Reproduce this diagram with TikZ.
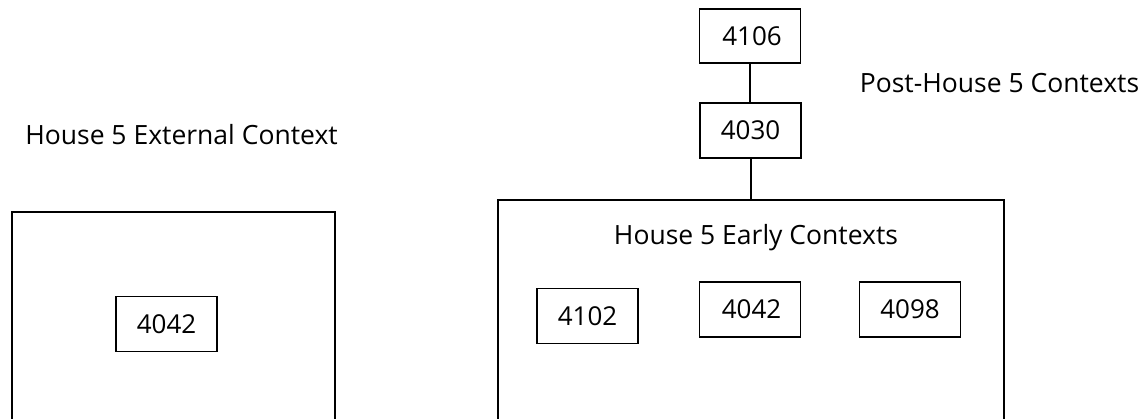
\documentclass[tikz,border=0pt]{standalone}
\usepackage{fontspec}
\setmainfont{Open Sans}
\begin{document}
\begin{tikzpicture}[x=1pt,y=-1pt,
  lbl/.style={font=\fontsize{26.5}{31}\selectfont, inner sep=0pt},
  numbox/.style={draw, line width=1.8pt, font=\fontsize{26}{30}\selectfont, minimum width=101pt, minimum height=55pt, inner sep=0pt},
  bigbox/.style={draw, line width=1.8pt, anchor=north west, inner sep=0pt},
  link/.style={line width=1.8pt}]
\clip (0,0) rectangle (1146,418);
\fill[white] (0,0) rectangle (1146,418);
% big boxes (open at the bottom edge of the picture)
\node[bigbox, minimum width=323pt, minimum height=240pt] (ext) at (11,211) {};
\node[bigbox, minimum width=506pt, minimum height=252pt] (early) at (497,199) {};
% labels
\node[lbl] (extlbl) at (181.5,135) {House 5 External Context};
\node[lbl] (earlylbl) at (756,238) {House 5 Early Contexts};
\node[lbl] (postlbl) at (999.5,83) {Post-House 5 Contexts};
% number boxes
\node[numbox] (a4042) at (166.5,324) {4042};
\node[numbox] (b4102) at (587.5,316) {4102};
\node[numbox] (b4042) at (750,309.5) {\hspace*{3pt}4042};
\node[numbox] (b4098) at (910,309.5) {4098};
\node[numbox, minimum height=54pt] (c4106) at (750,36) {\hspace*{4pt}4106};
\node[numbox] (c4030) at (750.5,130.5) {4030};
% connectors
\draw[link] (c4106.south) -- (c4106.south |- c4030.north);
\draw[link] (c4030.south -| early.north) -- (early.north);
\end{tikzpicture}
\end{document}
